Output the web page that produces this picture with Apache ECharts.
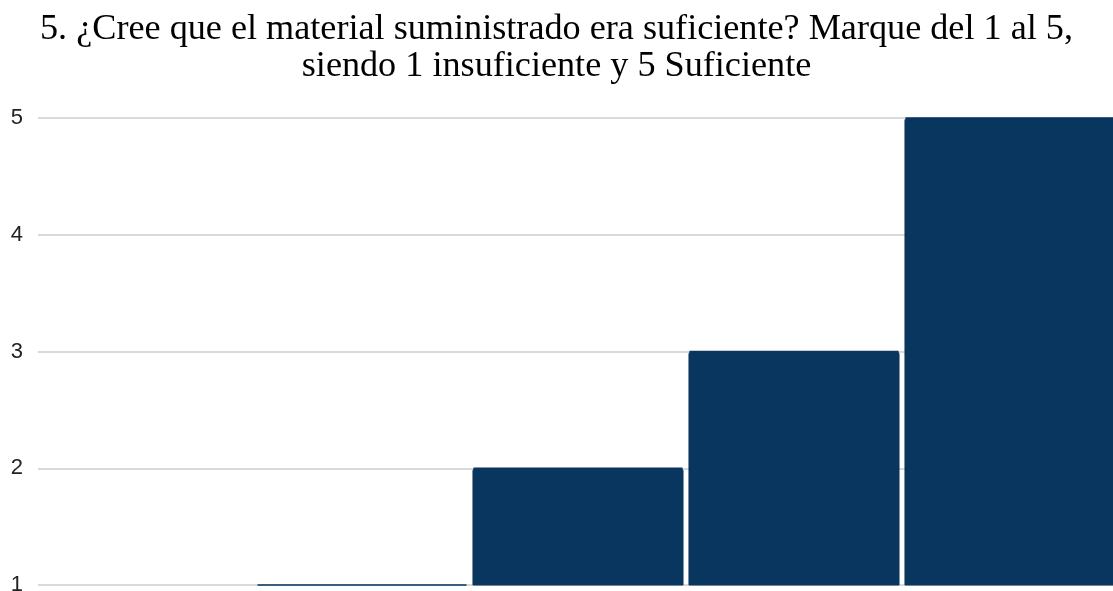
<!DOCTYPE html>
<html><head><meta charset="utf-8">
<script src="https://cdn.jsdelivr.net/npm/echarts@6/dist/echarts.min.js"></script>
<style>html,body{margin:0;padding:0;background:#fff}#c{width:1113px;height:591px}</style>
</head><body><div id="c"></div>
<script>
const categories = ['1', '2', '3', '4', '5'];
const values = [0, 1, 2, 3, 5];
const yTicks = [1, 2, 3, 4, 5];
const titleText = '5. ¿Cree que el material suministrado era suficiente? Marque del 1 al 5,\nsiendo 1 insuficiente y 5 Suficiente';
const barColor = '#08365f';
const yMin = yTicks[0];

const chart = echarts.init(document.getElementById('c'));
chart.setOption({
  animation: false,
  title: {
    text: titleText,
    left: 'center',
    top: 6,
    textStyle: { fontFamily: 'Liberation Serif', fontSize: 36.2, fontWeight: 'normal', color: '#000', lineHeight: 37 }
  },
  grid: { left: 38, right: -5, top: 118, bottom: 6, containLabel: false, outerBoundsMode: 'none' },
  xAxis: {
    type: 'category', data: categories,
    axisLine: { show: false }, axisTick: { show: false }, axisLabel: { show: false }
  },
  yAxis: {
    type: 'value', min: yMin, max: yTicks[yTicks.length - 1], interval: 1,
    axisLine: { show: false }, axisTick: { show: false },
    axisLabel: { fontFamily: 'Liberation Sans', fontSize: 22, color: '#222', margin: 15 },
    splitLine: { lineStyle: { color: '#cccccc', width: 1.5 } }
  },
  series: [{
    type: 'bar', data: values, clip: true,
    barCategoryGap: '2.3%',
    itemStyle: { color: barColor, borderColor: barColor, borderWidth: 1, borderRadius: [2, 2, 0, 0] }
  }, {
    type: 'custom', clip: false, silent: true, z: 3,
    data: values.map((v, i) => [i, v]),
    encode: { x: 0, y: 1 },
    renderItem: function (params, api) {
      const v = api.value(1);
      if (v < yMin) return null;
      const p = api.coord([api.value(0), v]);
      const w = api.size([1, 0])[0] * 0.977;
      return { type: 'line', shape: { x1: p[0] - w / 2 + 1, y1: p[1], x2: p[0] + w / 2 - 1, y2: p[1] },
               style: { stroke: barColor, lineWidth: 1.5 } };
    }
  }]
});
</script></body></html>
